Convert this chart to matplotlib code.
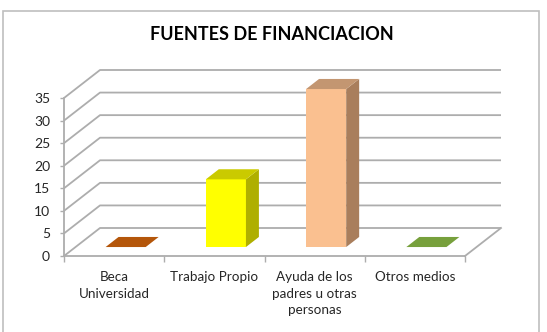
import matplotlib
matplotlib.use("Agg")
import matplotlib.pyplot as plt
from matplotlib.patches import Polygon, Rectangle

# ---- data ----
title = "FUENTES DE FINANCIACION"
categories = ["Beca\nUniversidad", "Trabajo Propio", "Ayuda de los\npadres u otras\npersonas", "Otros medios"]
values = [0, 15, 35, 0]
yticks = [0, 5, 10, 15, 20, 25, 30, 35]

front_colors = ["#B4560A", "#FFFF00", "#FAC090", "#77A03C"]
side_colors = ["#8A4208", "#AFAF00", "#A97E5C", "#5A7A2E"]
top_colors = ["#B4560A", "#CACA00", "#C39671", "#77A03C"]

W, H = 547, 332
plt.rcParams['font.family'] = ['Lato', 'DejaVu Sans']
fig = plt.figure(figsize=(W / 100, H / 100), dpi=100)
ax = fig.add_axes([64 / W, (H - 256) / H, 401 / W, 158 / H])
n = len(categories)
ymax = yticks[-1]
ax.set_xlim(0, n)
ax.set_ylim(0, ymax)

px_per_x = 401 / n
px_per_y = 158 / ymax
ddx = 36 / px_per_x
ddy = 28 / px_per_y

grid_c = "#ADADAD"
for v in yticks:
    ax.plot([0, ddx, n + ddx], [v, v + ddy, v + ddy], color=grid_c, lw=1.3,
            clip_on=False, zorder=1, solid_capstyle='butt')
ax.plot([n, n + ddx], [0, ddy], color=grid_c, lw=1.3, clip_on=False, zorder=1)

# bars
hw = 0.2
f1, f2 = 0.32, 0.68
bx = (f2 - f1) * ddx
by = (f2 - f1) * ddy
for i, v in enumerate(values):
    c = i + 0.5
    x0 = c - hw + f1 * ddx
    x1 = c + hw + f1 * ddx
    y0 = f1 * ddy
    y1 = v + f1 * ddy
    if v > 0:
        ax.add_patch(Polygon([(x0, y0), (x1, y0), (x1, y1), (x0, y1)],
                             closed=True, fc=front_colors[i], ec='none', clip_on=False, zorder=3))
        ax.add_patch(Polygon([(x1, y0), (x1 + bx, y0 + by), (x1 + bx, y1 + by), (x1, y1)],
                             closed=True, fc=side_colors[i], ec='none', clip_on=False, zorder=3))
    ax.add_patch(Polygon([(x0, y1), (x1, y1), (x1 + bx, y1 + by), (x0 + bx, y1 + by)],
                         closed=True, fc=top_colors[i], ec='none', clip_on=False, zorder=3))

# axes styling
for s in ['top', 'right']:
    ax.spines[s].set_visible(False)
for s in ['left', 'bottom']:
    ax.spines[s].set_color(grid_c)
    ax.spines[s].set_linewidth(1.3)
    ax.spines[s].set_zorder(4)
ax.set_facecolor('none')

ax.set_yticks(yticks)
ax.set_yticklabels([str(t) for t in yticks])
ax.tick_params(axis='y', length=3, width=1, color=grid_c, pad=7,
               labelsize=10, labelcolor='#262626')

ax.set_xticks(range(n + 1))
ax.set_xticklabels([''] * (n + 1))
ax.set_xticks([i + 0.5 for i in range(n)], minor=True)
ax.set_xticklabels(categories, minor=True, linespacing=1.45)
ax.tick_params(axis='x', which='major', length=4, width=1, color=grid_c, direction='out')
ax.tick_params(axis='x', which='minor', length=0, pad=11, labelsize=9.7, labelcolor='#262626')

fig.text(272 / W, 1 - 35 / H, title, ha='center', va='center',
         fontsize=13, fontweight='bold', color='black')

fig.patches.append(Rectangle((3 / W, -0.05), 536 / W, (H - 11) / H + 0.05,
                             transform=fig.transFigure, fill=False, ec='#BFBFBF', lw=1.2))

fig.savefig("out.png", dpi=100)
